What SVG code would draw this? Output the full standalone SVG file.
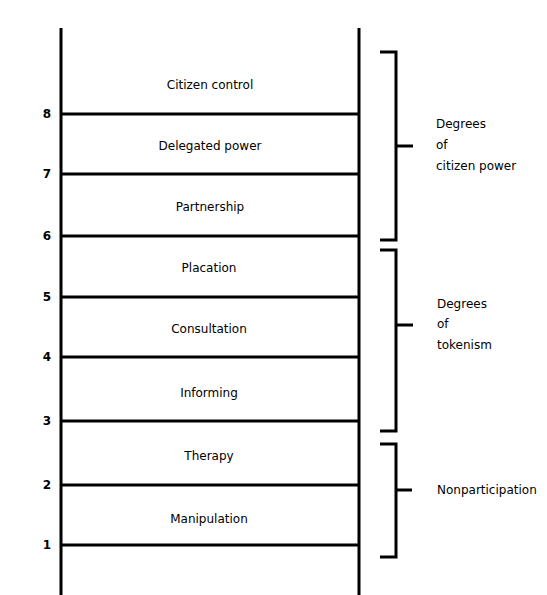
<svg xmlns="http://www.w3.org/2000/svg" width="547" height="595" viewBox="0 0 547 595">
<style>
.ln{stroke:#000;stroke-width:3;fill:none;stroke-linecap:butt}
.br{stroke:#000;stroke-width:3;fill:none;stroke-linejoin:miter}
.lbl{font-family:"DejaVu Sans","Liberation Sans",Arial,sans-serif;font-size:12px;fill:#000;text-anchor:middle}
.num{font-family:"DejaVu Sans","Liberation Sans",Arial,sans-serif;font-size:12px;font-weight:bold;fill:#000;text-anchor:middle}
.grp{font-family:"DejaVu Sans","Liberation Sans",Arial,sans-serif;font-size:12px;fill:#000}
</style>
<rect width="547" height="595" fill="#fff"/>
<g id="ladder">
<line class="ln" x1="61" y1="28" x2="61" y2="595"/>
<line class="ln" x1="359" y1="28" x2="359" y2="595"/>
</g>
<g id="rungs">
<line class="ln" x1="61" y1="114" x2="359" y2="114"/>
<line class="ln" x1="61" y1="174" x2="359" y2="174"/>
<line class="ln" x1="61" y1="236" x2="359" y2="236"/>
<line class="ln" x1="61" y1="297" x2="359" y2="297"/>
<line class="ln" x1="61" y1="357" x2="359" y2="357"/>
<line class="ln" x1="61" y1="421" x2="359" y2="421"/>
<line class="ln" x1="61" y1="485" x2="359" y2="485"/>
<line class="ln" x1="61" y1="545" x2="359" y2="545"/>
</g>
<g id="numbers">
<text class="num" x="47" y="118">8</text>
<text class="num" x="47" y="178">7</text>
<text class="num" x="47" y="240">6</text>
<text class="num" x="47" y="301">5</text>
<text class="num" x="47" y="361">4</text>
<text class="num" x="47" y="425">3</text>
<text class="num" x="47" y="489">2</text>
<text class="num" x="47" y="549">1</text>
</g>
<g id="rung-labels">
<text class="lbl" x="210" y="89">Citizen control</text>
<text class="lbl" x="210" y="150">Delegated power</text>
<text class="lbl" x="210" y="211">Partnership</text>
<text class="lbl" x="209" y="272">Placation</text>
<text class="lbl" x="209" y="333">Consultation</text>
<text class="lbl" x="209" y="397">Informing</text>
<text class="lbl" x="209" y="460">Therapy</text>
<text class="lbl" x="209" y="523">Manipulation</text>
</g>
<g id="citizen-power">
<path class="br" d="M380 52 H396 V240 H380"/>
<line class="ln" x1="396" y1="146" x2="413" y2="146"/>
<text class="grp" x="436" y="128">Degrees</text>
<text class="grp" x="436" y="149">of</text>
<text class="grp" x="436" y="170">citizen power</text>
</g>
<g id="tokenism">
<path class="br" d="M380 250 H396 V431 H380"/>
<line class="ln" x1="396" y1="325" x2="413" y2="325"/>
<text class="grp" x="437" y="308">Degrees</text>
<text class="grp" x="437" y="328">of</text>
<text class="grp" x="437" y="349">tokenism</text>
</g>
<g id="nonparticipation">
<path class="br" d="M380 444 H396 V557 H380"/>
<line class="ln" x1="396" y1="490" x2="412" y2="490"/>
<text class="grp" x="437" y="494">Nonparticipation</text>
</g>
</svg>
